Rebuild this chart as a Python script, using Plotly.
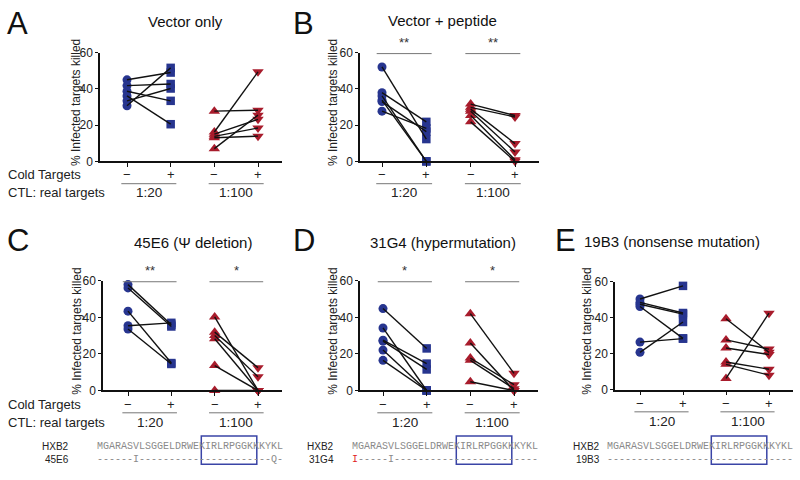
import plotly.graph_objects as go

W, H = 800, 480
BLUE = "#27358f"
RED = "#a81c2c"
FONT = "Liberation Sans, Arial, sans-serif"
MONO = "Liberation Mono, Courier New, monospace"

# ---------------- data ----------------
categories = ["−", "+", "−", "+"]
ratio_labels = ["1:20", "1:100"]
yticks = [0, 20, 40, 60]

panel_letters = ["A", "B", "C", "D", "E"]
panel_titles = ["Vector only", "Vector + peptide", "45E6 (Ψ deletion)",
                "31G4 (hypermutation)", "19B3 (nonsense mutation)"]

# (1:20 minus, 1:20 plus, 1:100 minus, 1:100 plus) paired values
a20_minus = [45.0, 41.8, 38.7, 36.1, 33.4, 30.7]
a20_plus = [49.0, 42.7, 33.4, 20.5, 40.2, 51.6]
a100_minus = [27.7, 16.2, 15.0, 13.8, 13.0, 7.0]
a100_plus = [28.2, 49.4, 23.2, 18.4, 13.9, 25.5]

b20_minus = [52.1, 37.9, 36.1, 33.8, 33.0, 27.7]
b20_plus = [12.3, 21.8, 0.0, 0.0, 16.4, 18.2]
b100_minus = [31.6, 29.8, 28.8, 27.7, 25.3, 21.8]
b100_plus = [25.3, 24.5, 9.8, 5.2, 0.9, 0.0]

c20_minus = [57.9, 56.1, 43.4, 35.4, 33.6]
c20_plus = [36.0, 35.0, 15.0, 37.0, 14.5]
c100_minus = [40.2, 31.9, 30.1, 28.3, 13.6, 0.0]
c100_plus = [0.0, 12.5, 7.5, 0.0, 0.0, 0.0]

d20_minus = [44.8, 34.2, 27.5, 27.0, 22.1, 16.5]
d20_plus = [23.0, 0.0, 14.7, 11.5, 0.0, 0.0]
d100_minus = [42.0, 26.0, 17.7, 16.5, 4.8]
d100_plus = [9.4, 0.0, 3.2, 1.0, 0.0]

e20_minus = [50.4, 48.5, 47.5, 46.2, 26.4, 20.7]
e20_plus = [57.7, 42.6, 42.0, 28.5, 28.3, 37.6]
e100_minus = [39.4, 27.6, 23.1, 15.3, 14.0, 6.2]
e100_plus = [20.7, 22.5, 19.5, 11.3, 8.0, 42.5]

panel_data = [
    (a20_minus, a20_plus, a100_minus, a100_plus),
    (b20_minus, b20_plus, b100_minus, b100_plus),
    (c20_minus, c20_plus, c100_minus, c100_plus),
    (d20_minus, d20_plus, d100_minus, d100_plus),
    (e20_minus, e20_plus, e100_minus, e100_plus),
]
significance = [None, ["**", "**"], ["**", "*"], ["*", "*"], None]

seq_ref = "MGARASVLSGGELDRWEKIRLRPGGKKKYKL"
seq_names = [None, None, "45E6", "31G4", "19B3"]
seq_variants = [None, None,
                "------I----------------------Q-",
                "<span style='color:#e0201b'>I</span>-----I------------------------",
                "-------------------------------"]

# ---------------- layout geometry (pixels) ----------------
geom = [
    dict(left=100, c0=127, c3=258, y0=159, y60=47, ytx=76, lx=5, ly=17, tx=185, ty=15),
    dict(left=360, c0=382, c3=515, y0=159, y60=47, ytx=333, lx=291, ly=17, tx=442, ty=14),
    dict(left=103, c0=128, c3=258, y0=395, y60=282, ytx=77, lx=5, ly=241, tx=193, ty=243),
    dict(left=360, c0=383, c3=514, y0=395, y60=282, ytx=333, lx=291, ly=241, tx=443, ty=243),
    dict(left=615, c0=640, c3=769, y0=394, y60=283, ytx=587, lx=553, ly=241, tx=672, ty=242),
]
seq_geom = [None, None,
            dict(lab=70, start=96, y1=453, y2=466),
            dict(lab=335, start=351, y1=453, y2=466),
            dict(lab=601, start=606, y1=453, y2=466)]
CHAR_W = 6.0


def px(x):
    return x / W


def py(y):
    return 1 - y / H


fig = go.Figure()
annotations = []
shapes = []
layout_axes = {}

for i, (data, g) in enumerate(zip(panel_data, geom)):
    n = i + 1
    xa = "x" if n == 1 else f"x{n}"
    ya = "y" if n == 1 else f"y{n}"
    s = (g["c3"] - g["c0"]) / 3.0
    r0 = -(g["c0"] - g["left"]) / s
    r1 = 3.55
    right = g["c3"] + 0.55 * s

    def dfrac(v, r0=r0, r1=r1):
        return (v - r0) / (r1 - r0)

    layout_axes["xaxis" if n == 1 else f"xaxis{n}"] = dict(
        domain=[px(g["left"]), px(right)], range=[r0, r1], anchor=ya,
        showgrid=False, zeroline=False, showline=True, linecolor="#111", linewidth=1.5,
        ticks="outside", ticklen=4, tickwidth=1.2, tickcolor="#111",
        tickvals=[0, 1, 2, 3], showticklabels=False, fixedrange=True)
    layout_axes["yaxis" if n == 1 else f"yaxis{n}"] = dict(
        domain=[py(g["y0"]), py(g["y60"])], range=[0, 60], anchor=xa,
        showgrid=False, zeroline=False, showline=True, linecolor="#111", linewidth=1.5,
        ticks="outside", ticklen=3, tickwidth=1.2, tickcolor="#111",
        tickvals=yticks, tickfont=dict(size=12, color="#222", family=FONT), fixedrange=True)

    m20, p20, m100, p100 = data
    styles = [("circle", BLUE, 9), ("square", BLUE, 8.5),
              ("triangle-up", RED, 10), ("triangle-down", RED, 10)]
    for pos, (vals, (sym, col, sz)) in enumerate(zip(data, styles)):
        fig.add_trace(go.Scatter(
            x=[pos] * len(vals), y=vals, mode="markers", xaxis=xa, yaxis=ya,
            marker=dict(symbol=sym, color=col, size=sz, line=dict(width=0)),
            cliponaxis=False, showlegend=False, hoverinfo="skip"))
    lx, ly = [], []
    for a, b in zip(m20, p20):
        lx += [0, 1, None]
        ly += [a, b, None]
    for a, b in zip(m100, p100):
        lx += [2, 3, None]
        ly += [a, b, None]
    fig.add_trace(go.Scatter(x=lx, y=ly, mode="lines", xaxis=xa, yaxis=ya,
                             line=dict(color="#111", width=1.4),
                             cliponaxis=False, showlegend=False, hoverinfo="skip"))

    # category labels under each tick
    for pos, lab in enumerate(categories):
        annotations.append(dict(text=lab, x=pos, y=py(g["y0"] + 14), xref=xa, yref="paper",
                                xanchor="center", yanchor="middle", showarrow=False,
                                font=dict(size=13, family=FONT, color="#222")))

    # panel letter and title
    annotations.append(dict(text=panel_letters[i], x=px(g["lx"]), y=py(g["ly"]),
                            xref="paper", yref="paper", xanchor="left", yanchor="middle",
                            showarrow=False, font=dict(size=31, family=FONT, color="#111")))
    annotations.append(dict(text=panel_titles[i], x=px(g["tx"]), y=py(g["ty"]),
                            xref="paper", yref="paper", xanchor="center", yanchor="middle",
                            showarrow=False, font=dict(size=15, family=FONT, color="#111")))
    # y title
    annotations.append(dict(text="% Infected targets killed", x=px(g["ytx"]),
                            y=py((g["y0"] + g["y60"]) / 2 - 4), xref="paper", yref="paper",
                            textangle=-90, xanchor="center", yanchor="middle", showarrow=False,
                            font=dict(size=12, family=FONT, color="#222")))
    # group underline + labels
    uy = g["y0"] + 23
    for k, base in enumerate([0, 2]):
        shapes.append(dict(type="line", xref=f"{xa} domain", yref="paper",
                           x0=dfrac(base - 0.13), x1=dfrac(base + 1.13), y0=py(uy), y1=py(uy),
                           line=dict(color="#777", width=1)))
        annotations.append(dict(text=ratio_labels[k], x=base + 0.5, y=py(uy + 9.5),
                                xref=xa, yref="paper", xanchor="center", yanchor="middle",
                                showarrow=False, font=dict(size=13.5, family=FONT, color="#222")))
    # significance
    if significance[i]:
        sy = g["y60"] + 1
        for k, base in enumerate([0, 2]):
            shapes.append(dict(type="line", xref=f"{xa} domain", yref="paper",
                               x0=dfrac(base - 0.12), x1=dfrac(base + 1.12), y0=py(sy), y1=py(sy),
                               line=dict(color="#777", width=1)))
            annotations.append(dict(text=significance[i][k], x=base + 0.5, y=py(sy - 2),
                                    xref=xa, yref="paper", xanchor="center", yanchor="bottom",
                                    showarrow=False, font=dict(size=13, family=FONT, color="#333")))
    # row labels for A and C
    if i in (0, 2):
        annotations.append(dict(text="Cold Targets", x=px(6), y=py(g["y0"] + 14),
                                xref="paper", yref="paper", xanchor="left", yanchor="middle",
                                showarrow=False, font=dict(size=13, family=FONT, color="#222")))
        annotations.append(dict(text="CTL: real targets", x=px(6), y=py(g["y0"] + 32.5),
                                xref="paper", yref="paper", xanchor="left", yanchor="middle",
                                showarrow=False, font=dict(size=13, family=FONT, color="#222")))
    # sequence alignment
    sg = seq_geom[i]
    if sg:
        for lab, yy in (("HXB2", sg["y1"]), (seq_names[i], sg["y2"])):
            annotations.append(dict(text=lab, x=px(sg["lab"]), y=py(yy), xref="paper",
                                    yref="paper", xanchor="right", yanchor="middle",
                                    showarrow=False, borderpad=0,
                                    font=dict(size=10, family=FONT, color="#222")))
        for txt, yy in ((seq_ref, sg["y1"]), (seq_variants[i], sg["y2"])):
            annotations.append(dict(text=txt, x=px(sg["start"]), y=py(yy), xref="paper",
                                    yref="paper", xanchor="left", yanchor="middle",
                                    showarrow=False, borderpad=0,
                                    font=dict(size=10, family=MONO, color="#8a8a8a")))
        shapes.append(dict(type="rect", xref="paper", yref="paper",
                           x0=px(sg["start"] + 17.55 * CHAR_W), x1=px(sg["start"] + 26.8 * CHAR_W),
                           y0=py(442), y1=py(471), line=dict(color="#3a44a6", width=1.5)))

fig.update_layout(width=W, height=H, margin=dict(l=0, r=0, t=0, b=0),
                  paper_bgcolor="white", plot_bgcolor="white",
                  annotations=annotations, shapes=shapes, showlegend=False,
                  hovermode=False, **layout_axes)
fig.write_html("out.html", config={"displayModeBar": False},
               post_script="document.body.style.margin='0px';document.body.style.overflow='hidden';")
